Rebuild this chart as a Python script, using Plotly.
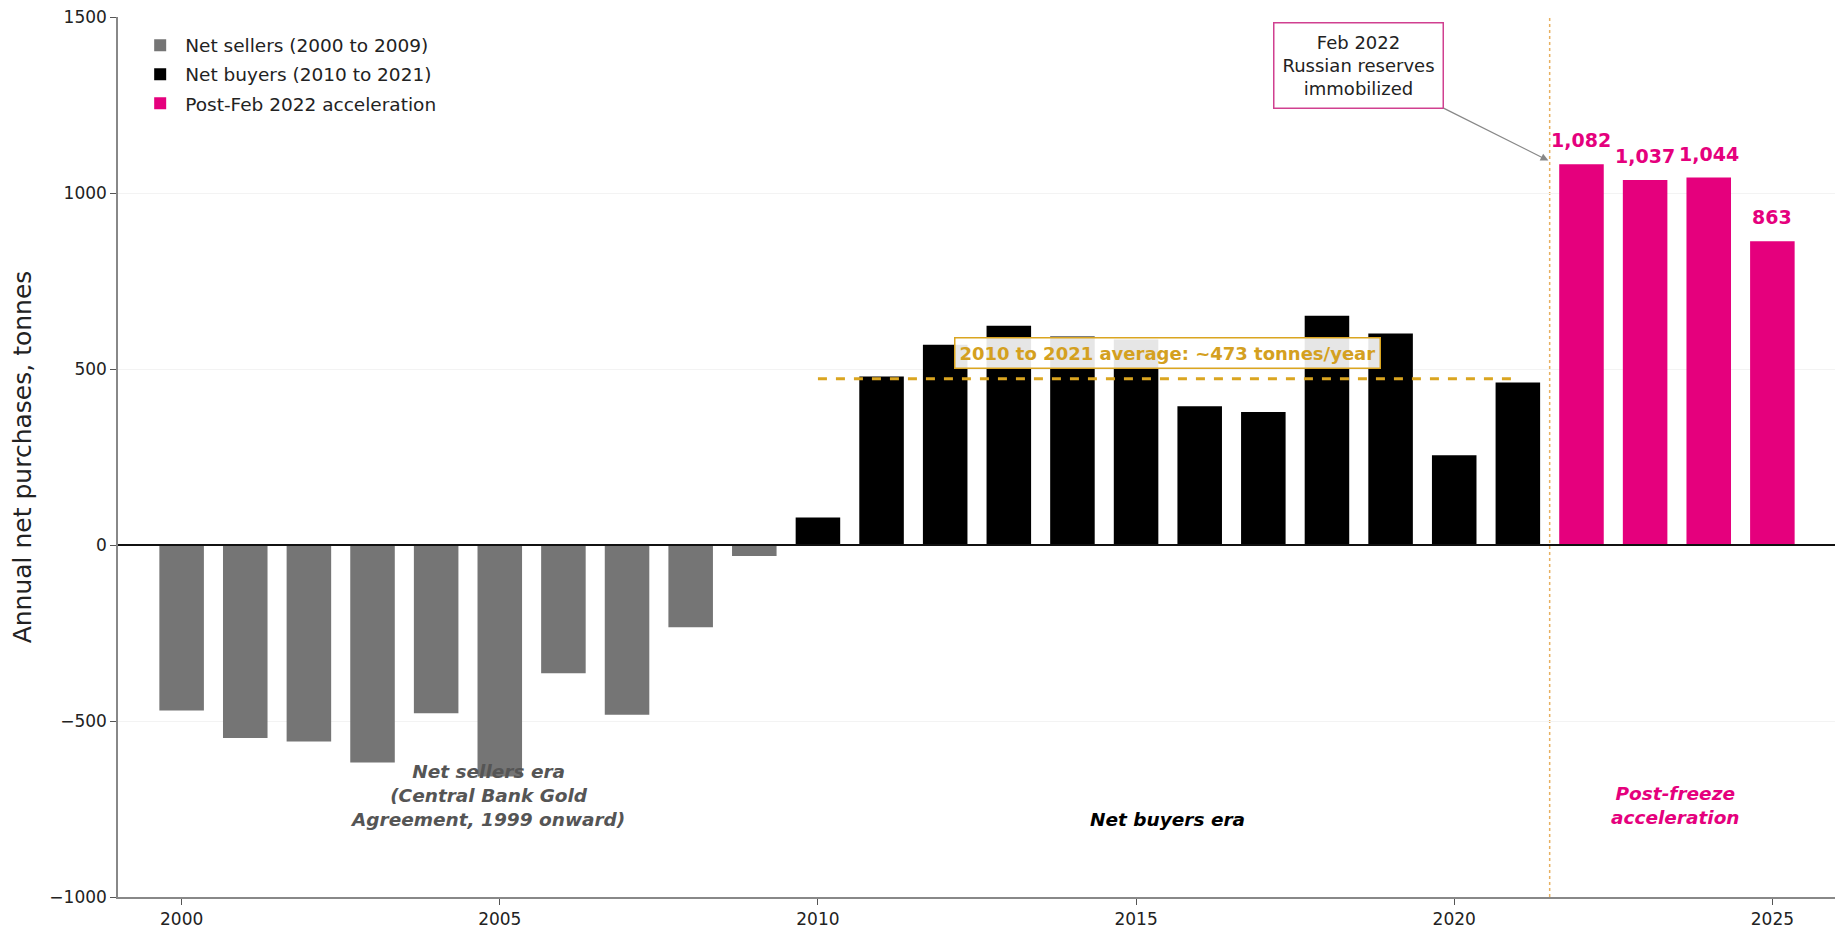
import plotly.graph_objects as go

# ---- data ----
seller_years = list(range(2000, 2010))
seller_values = [-470, -548, -558, -618, -478, -658, -364, -482, -234, -31]

buyer_years = list(range(2010, 2022))
buyer_values = [78, 479, 569, 623, 592, 584, 394, 378, 651, 601, 255, 462]

post_years = [2022, 2023, 2024, 2025]
post_values = [1082, 1037, 1044, 863]

avg_label_value = 473
freeze_x = 2021.5

GRAY = "#757575"
BLACK = "#000000"
MAGENTA = "#E5007D"
GOLD = "#DAA520"
GOLD_TEXT = "#D4A020"
FONT = "DejaVu Sans, Verdana, sans-serif"

fig = go.Figure()
fig.add_trace(go.Bar(x=seller_years, y=seller_values, name="Net sellers (2000 to 2009)", legendgroup="a",
                     marker=dict(color=GRAY, line=dict(width=0)), width=0.7))
fig.add_trace(go.Bar(x=buyer_years, y=buyer_values, name="Net buyers (2010 to 2021)", legendgroup="b",
                     marker=dict(color=BLACK, line=dict(width=0)), width=0.7))
fig.add_trace(go.Bar(x=post_years, y=post_values, name="Post-Feb 2022 acceleration", legendgroup="c",
                     marker=dict(color=MAGENTA, line=dict(width=0)), width=0.7))

# average line 2010-2021
avg_val = sum(buyer_values) / len(buyer_values)
fig.add_trace(go.Scatter(x=[buyer_years[0], buyer_years[-1]], y=[avg_val, avg_val],
                         mode="lines", line=dict(color=GOLD, width=3, dash="dash"),
                         showlegend=False, hoverinfo="skip"))

# zero line
fig.add_shape(type="line", xref="paper", x0=0, x1=1, yref="y", y0=0, y1=0,
              line=dict(color="#111111", width=1.8), layer="above")
# freeze line
fig.add_shape(type="line", xref="x", x0=freeze_x, x1=freeze_x, yref="paper", y0=0, y1=1,
              line=dict(color="#E8B060", width=1.5, dash="dot"), layer="below")

# value labels
for xv, yv in zip(post_years, post_values):
    fig.add_annotation(x=xv, y=yv, text=f"{yv:,}", showarrow=False, yanchor="bottom",
                       yshift=11, font=dict(family=FONT, size=19, color=MAGENTA, weight="bold"))

# average label
fig.add_annotation(x=2015.5, y=546, text=f"2010 to 2021 average: ~{avg_label_value} tonnes/year",
                   showarrow=False, font=dict(family=FONT, size=18, color=GOLD_TEXT, weight="bold"),
                   bgcolor="rgba(255,255,255,0.9)", bordercolor=GOLD, borderwidth=1.5, borderpad=4)

# freeze annotation
fig.add_annotation(x=2021.48, y=1092, ax=2018.5, ay=1362, axref="x", ayref="y",
                   text="Feb 2022<br>Russian reserves<br>immobilized", showarrow=True,
                   arrowhead=2, arrowsize=1.2, arrowwidth=1.3, arrowcolor="#888888",
                   font=dict(family=FONT, size=18, color="#222222"),
                   bgcolor="white", bordercolor="#D04090", borderwidth=1.5, borderpad=8,
                   align="center")

# era labels
fig.add_annotation(x=2004.8, y=-712, text="Net sellers era<br>(Central Bank Gold<br>Agreement, 1999 onward)",
                   showarrow=False, font=dict(family=FONT, size=18.5, color="#555555", weight="bold", style="italic"),
                   align="center")
fig.add_annotation(x=2015.5, y=-780, text="Net buyers era", showarrow=False,
                   font=dict(family=FONT, size=18.5, color="#000000", weight="bold", style="italic"))
fig.add_annotation(x=2023.47, y=-740, text="Post-freeze<br>acceleration", showarrow=False,
                   font=dict(family=FONT, size=18.5, color=MAGENTA, weight="bold", style="italic"),
                   align="center")

fig.update_layout(
    width=1835, height=924,
    margin=dict(l=110, r=7, t=9, b=35),
    plot_bgcolor="white", paper_bgcolor="white",
    font=dict(family=FONT, size=16, color="#222222"),
    barmode="overlay",
    showlegend=True,
    legend=dict(x=0.010, y=0.989, xanchor="left", yanchor="top", bgcolor="rgba(255,255,255,0)",
                font=dict(family=FONT, size=18.5, color="#222222"), itemwidth=40, tracegroupgap=2),
    xaxis=dict(range=[1999, 2026], tickmode="linear", tick0=2000, dtick=5, automargin=False,
               ticklabeloverflow="allow",
               showgrid=False, zeroline=False, showline=True, linecolor="#888888", linewidth=1.5,
               ticks="outside", ticklen=6, tickcolor="#555555", tickfont=dict(size=17)),
    yaxis=dict(range=[-1000, 1500], tickmode="linear", tick0=-1000, dtick=500, automargin=False,
               ticklabeloverflow="allow",
               showgrid=True, gridcolor="#f3f3f3", gridwidth=1, zeroline=False,
               showline=True, linecolor="#888888", linewidth=1.5,
               ticks="outside", ticklen=6, tickcolor="#555555", tickfont=dict(size=17),
               title=dict(text="Annual net purchases, tonnes", font=dict(size=25, color="#222222"), standoff=12)),
)

fig.write_html("out.html")
